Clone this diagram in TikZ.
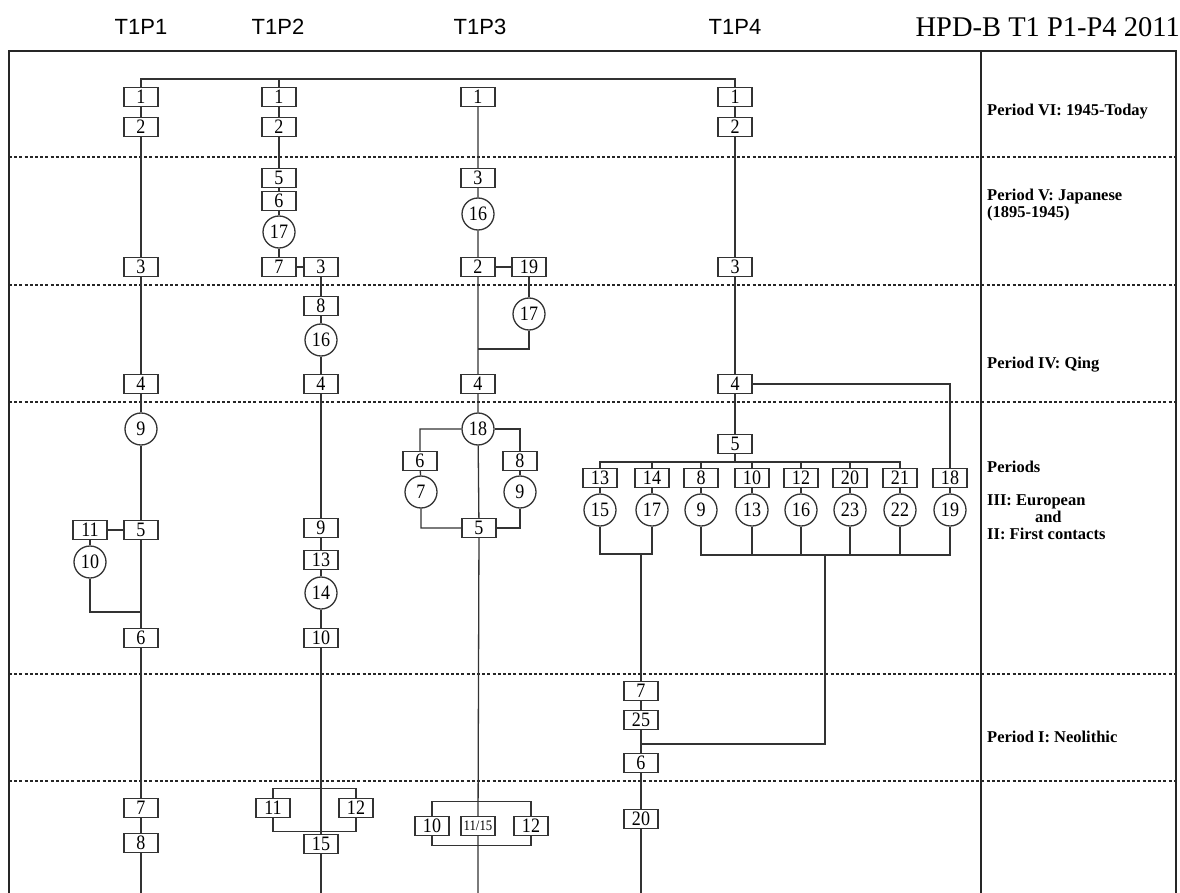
\documentclass[tikz,border=0pt]{standalone}
\usepackage{fontspec}
\setmainfont{Liberation Serif}
\newfontfamily\headfont{Liberation Sans}
\newfontfamily\numfont[FakeStretch=0.88]{Liberation Serif}
\usetikzlibrary{positioning}

\begin{document}
\begin{tikzpicture}[x=1pt, y=-1pt,
        every node/.style={font=\numfont\fontsize{20.5}{20.5}\selectfont, inner sep=0pt},
        box/.style={draw=black!80, line width=1.3pt, fill=white, minimum width=34pt, minimum height=19pt},
        ring/.style={draw=black!80, line width=1.3pt, fill=white, circle, minimum size=32pt},
        link/.style={draw=black!80, line width=1.3pt},
        frame/.style={draw=black!85, line width=1.3pt},
        sep/.style={draw=black!85, line width=1.6pt, dash pattern=on 3pt off 2.2pt},
        period/.style={font=\fontsize{16.5}{17}\selectfont\bfseries, anchor=west, align=left},
        head/.style={font=\fontsize{22}{22}\selectfont\headfont}
      ]
      \useasboundingbox (0,0) rectangle (1180,893);
      \coordinate (bot) at (0,893);
      \coordinate (bus) at (0,79);

      % frame and period bands
      \draw[frame] (9,893) |- (1176,51) -- (1176,893);
      \draw[frame] (981,51) -- (981,893);
      \foreach \y in {157,285,402,674,781}
        \draw[sep] (9,\y) -- (1176,\y);

      \node[head] (h1) at (141,27) {T1P1};
      \node[head] (h2) at (278,27) {T1P2};
      \node[head] (h3) at (480,27) {T1P3};
      \node[head] (h4) at (735,27) {T1P4};
      \node[font=\fontsize{28.5}{28.5}\selectfont, anchor=east] (title) at (1180,27) {HPD-B T1 P1-P4 2011};

      \node[period] (per6) at (987,112) {Period VI: 1945-Today};
      \node[period] (per5) at (987,205) {Period V: Japanese\\(1895-1945)};
      \node[period] (per4) at (987,365) {Period IV: Qing};
      \node[period] (per3) at (987,467) {Periods};
      \node[period] (per2) at (987,517) {III: European\\\hspace*{2.9em}and\\II: First contacts};
      \node[period] (per1) at (987,737) {Period I: Neolithic};

      % T1P1
      \node[box] (p1-1) at (141,97) {1};
      \node[box] (p1-2) at (141,127) {2};
      \node[box] (p1-3) at (141,267) {3};
      \node[box] (p1-4) at (141,384) {4};
      \node[ring] (p1-9) at (141,429) {9};
      \node[box] (p1-5) at (141,530) {5};
      \node[box] (p1-11) at (90,530) {11};
      \node[ring] (p1-10) at (90,562) {10};
      \node[box] (p1-6) at (141,638) {6};
      \node[box] (p1-7) at (141,808) {7};
      \node[box] (p1-8) at (141,843) {8};
      \coordinate (p1-j) at (141,612);
      \draw[link] (p1-1) -- (p1-2) -- (p1-3) -- (p1-4) -- (p1-9) -- (p1-5) -- (p1-6) -- (p1-7) -- (p1-8) -- (p1-8 |- bot);
      \draw[link] (p1-5) -- (p1-11) -- (p1-10) |- (p1-j);

      % T1P2
      \node[box] (p2-1) at (279,97) {1};
      \node[box] (p2-2) at (279,127) {2};
      \node[box] (p2-5) at (279,178) {5};
      \node[box] (p2-6) at (279,201) {6};
      \node[ring] (p2-17) at (279,232) {17};
      \node[box] (p2-7) at (279,267) {7};
      \node[box] (p2-3) at (321,267) {3};
      \node[box] (p2-8) at (321,306) {8};
      \node[ring] (p2-16) at (321,340) {16};
      \node[box] (p2-4) at (321,384) {4};
      \node[box] (p2-9) at (321,528) {9};
      \node[box] (p2-13) at (321,560) {13};
      \node[ring] (p2-14) at (321,593) {14};
      \node[box] (p2-10) at (321,638) {10};
      \node[box] (p2-11) at (273,808) {11};
      \node[box] (p2-12) at (356,808) {12};
      \node[box] (p2-15) at (321,844) {15};
      \draw[link] (p2-1) -- (p2-2) -- (p2-5) -- (p2-6) -- (p2-17) -- (p2-7) -- (p2-3) -- (p2-8) -- (p2-16) -- (p2-4) -- (p2-9) -- (p2-13) -- (p2-14) -- (p2-10) -- (p2-15) -- (p2-15 |- bot);
      \draw[link] (p2-11.north) -- ++(0,-9.5) -| (p2-12.north);
      \draw[link] (p2-11.south) -- ++(0,13.5) -| (p2-12.south);

      % T1P3
      \node[box] (p3-1) at (478,97) {1};
      \node[box] (p3-3) at (478,178) {3};
      \node[ring] (p3-16) at (478,214) {16};
      \node[box] (p3-2) at (478,267) {2};
      \node[box] (p3-19) at (529,267) {19};
      \node[ring] (p3-17) at (529,314) {17};
      \node[box] (p3-4) at (478,384) {4};
      \node[ring] (p3-18) at (478,429) {18};
      \node[box] (p3-6) at (420,461) {6};
      \node[ring] (p3-7) at (421,492) {7};
      \node[box] (p3-8) at (520,461) {8};
      \node[ring] (p3-9) at (520,492) {9};
      \node[box] (p3-5) at (479,528) {5};
      \node[box] (p3-10) at (432,826) {10};
      \node[box, font=\numfont\fontsize{14.5}{14.5}\selectfont] (p3-1115) at (478,826) {11/15};
      \node[box] (p3-12) at (531,826) {12};
      \coordinate (p3-j) at (478,349);
      \draw[link] (p3-1) -- (p3-3) -- (p3-16) -- (p3-2) -- (p3-4) -- (p3-18) -- (p3-5) -- (p3-1115) -- (p3-1115 |- bot);
      \draw[link] (p3-2) -- (p3-19) -- (p3-17) |- (p3-j);
      \draw[link] (p3-18) -| (p3-6) -- (p3-7) |- (p3-5);
      \draw[link] (p3-18) -| (p3-8) -- (p3-9) |- (p3-5);
      \draw[link] (p3-10.north) -- ++(0,-14.5) -| (p3-12.north);
      \draw[link] (p3-10.south) -- ++(0,9.5) -| (p3-12.south);

      % T1P4
      \node[box] (p4-1) at (735,97) {1};
      \node[box] (p4-2) at (735,127) {2};
      \node[box] (p4-3) at (735,267) {3};
      \node[box] (p4-4) at (735,384) {4};
      \node[box] (p4-5) at (735,444) {5};
      \coordinate (p4-bus) at (735,462);
      \foreach \x/\b/\c [count=\i] in {600/13/15, 652/14/17, 701/8/9, 752/10/13, 801/12/16, 850/20/23, 900/21/22, 950/18/19} {
        \node[box] (p4-b\i) at (\x,478) {\b};
        \node[ring] (p4-c\i) at (\x,510) {\c};
        \draw[link] (p4-b\i) -- (p4-c\i);
      }
      \node[box] (p4-7) at (641,691) {7};
      \node[box] (p4-25) at (641,720) {25};
      \node[box] (p4-6) at (641,763) {6};
      \node[box] (p4-20) at (641,819) {20};
      \coordinate (p4-j1) at (641,554);
      \coordinate (p4-j2) at (825,555);
      \coordinate (p4-j3) at (641,744);
      \draw[link] (p4-1) -- (p4-2) -- (p4-3) -- (p4-4) -- (p4-5) -- (p4-bus);
      \draw[link] (p4-4) -| (p4-b8);
      \foreach \i in {1,...,7}
        \draw[link] (p4-b\i.north) |- (p4-bus);
      \draw[link] (p4-c1) |- (p4-j1);
      \draw[link] (p4-c2) |- (p4-j1);
      \foreach \i in {3,...,8}
        \draw[link] (p4-c\i) |- (p4-j2);
      \draw[link] (p4-j2) |- (p4-j3);
      \draw[link] (p4-j1) -- (p4-7) -- (p4-25) -- (p4-6) -- (p4-20) -- (p4-20 |- bot);

      % top link
      \draw[link] (p1-1.north) |- (p4-1.north |- bus) -- (p4-1.north);
      \draw[link] (p2-1.north) -- (p2-1.north |- bus);
\end{tikzpicture}
\end{document}
